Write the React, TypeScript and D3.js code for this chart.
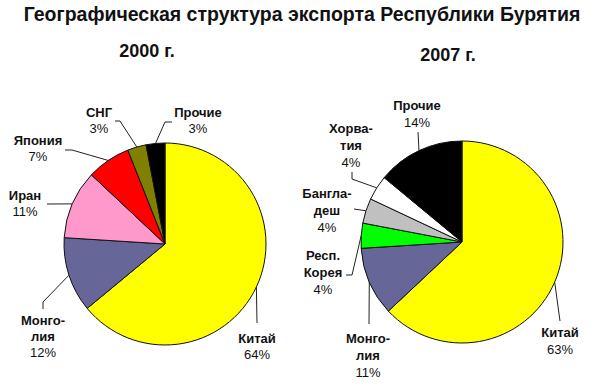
import React, { useEffect, useRef } from 'react';
import * as d3 from 'd3';

const title = 'Географическая структура экспорта Республики Бурятия';

const years = ['2000 г.', '2007 г.'];

const labels2000 = ['Китай', 'Монголия', 'Иран', 'Япония', 'СНГ', 'Прочие'];
const lines2000 = [['Китай'], ['Монго-', 'лия'], ['Иран'], ['Япония'], ['СНГ'], ['Прочие']];
const values2000 = [64, 12, 11, 7, 3, 3];
const colors2000 = ['#ffff00', '#666699', '#ff99cc', '#ff0000', '#808000', '#000000'];

const labels2007 = ['Китай', 'Монголия', 'Респ. Корея', 'Бангладеш', 'Хорватия', 'Прочие'];
const lines2007 = [['Китай'], ['Монго-', 'лия'], ['Респ.', 'Корея'], ['Бангла-', 'деш'], ['Хорва-', 'тия'], ['Прочие']];
const values2007 = [63, 11, 4, 4, 4, 14];
const colors2007 = ['#ffff00', '#666699', '#00ff00', '#c0c0c0', '#ffffff', '#000000'];

const FONT = '"Liberation Sans", Arial, sans-serif';

type Layout = {
  cx: number;
  cy: number;
  r: number;
  lineH: number;
  // label centre x, first baseline y, and leader points after the edge point
  labels: { x: number; y: number; leader: [number, number][] }[];
};

const layout2000: Layout = {
  cx: 165, cy: 244, r: 101, lineH: 16,
  labels: [
    { x: 257, y: 343, leader: [[257, 323]] },
    { x: 43, y: 325, leader: [[43, 302], [43, 309]] },
    { x: 25, y: 200, leader: [[47, 204]] },
    { x: 38, y: 145, leader: [[72, 150], [65, 150]] },
    { x: 99, y: 117, leader: [[120, 121], [115, 121]] },
    { x: 198, y: 117, leader: [[165, 122], [172, 122]] },
  ],
};

const layout2007: Layout = {
  cx: 462, cy: 242, r: 101, lineH: 17,
  labels: [
    { x: 560, y: 337, leader: [[560, 321]] },
    { x: 368, y: 343, leader: [[369, 324]] },
    { x: 323, y: 260, leader: [[352, 275], [346, 275]] },
    { x: 327, y: 198, leader: [[354, 209]] },
    { x: 351, y: 133, leader: [[352, 179], [352, 172]] },
    { x: 417, y: 110, leader: [[418, 132]] },
  ],
};

const App: React.FC = () => {
  const svgRef = useRef<SVGSVGElement>(null);

  useEffect(() => {
    if (!svgRef.current) return;
    const svg = d3.select(svgRef.current);
    svg.selectAll('*').remove();

    svg.append('rect').attr('width', 600).attr('height', 386).attr('fill', '#fff');

    svg.append('text')
      .attr('x', 302)
      .attr('y', 21)
      .attr('text-anchor', 'middle')
      .style('font-family', FONT)
      .style('font-weight', 'bold')
      .style('font-size', '19.5px')
      .attr('fill', '#111')
      .text(title);

    const drawPie = (
      values: number[],
      names: string[],
      lines: string[][],
      colors: string[],
      lay: Layout,
      year: string,
      yearPos: [number, number]
    ) => {
      const g = svg.append('g');

      g.append('text')
        .attr('x', yearPos[0])
        .attr('y', yearPos[1])
        .attr('text-anchor', 'middle')
        .style('font-family', FONT)
        .style('font-weight', 'bold')
        .style('font-size', '18px')
        .attr('fill', '#111')
        .text(year);

      const pie = d3.pie<number>().sort(null).value(d => d);
      const arcs = pie(values);
      const arc = d3.arc<d3.PieArcDatum<number>>().innerRadius(0).outerRadius(lay.r);
      const edge = d3.arc<d3.PieArcDatum<number>>().innerRadius(lay.r).outerRadius(lay.r);

      const pg = g.append('g').attr('transform', `translate(${lay.cx},${lay.cy})`);
      pg.selectAll('path.slice')
        .data(arcs)
        .enter()
        .append('path')
        .attr('class', 'slice')
        .attr('d', arc)
        .attr('fill', (_, i) => colors[i])
        .attr('stroke', '#111')
        .attr('stroke-width', 1)
        .attr('stroke-linejoin', 'round');

      const line = d3.line<[number, number]>();

      arcs.forEach((a, i) => {
        const [ex, ey] = edge.centroid(a);
        const pts: [number, number][] = [[lay.cx + ex, lay.cy + ey], ...lay.labels[i].leader];
        g.append('path')
          .attr('d', line(pts))
          .attr('fill', 'none')
          .attr('stroke', '#222')
          .attr('stroke-width', 1);

        const t = g.append('text')
          .attr('text-anchor', 'middle')
          .style('font-family', FONT)
          .style('font-size', '13px')
          .attr('fill', '#111')
          .attr('data-name', names[i]);
        const rows = [...lines[i], `${values[i]}%`];
        rows.forEach((row, k) => {
          t.append('tspan')
            .attr('x', lay.labels[i].x)
            .attr('y', lay.labels[i].y + k * lay.lineH)
            .style('font-weight', k < rows.length - 1 ? 'bold' : 'normal')
            .text(row);
        });
      });
    };

    drawPie(values2000, labels2000, lines2000, colors2000, layout2000, years[0], [147, 57]);
    drawPie(values2007, labels2007, lines2007, colors2007, layout2007, years[1], [448, 61]);
  }, []);

  return (
    <svg
      ref={svgRef}
      width={600}
      height={386}
      style={{ position: 'absolute', left: 0, top: 0, display: 'block' }}
    />
  );
};

export default App;
